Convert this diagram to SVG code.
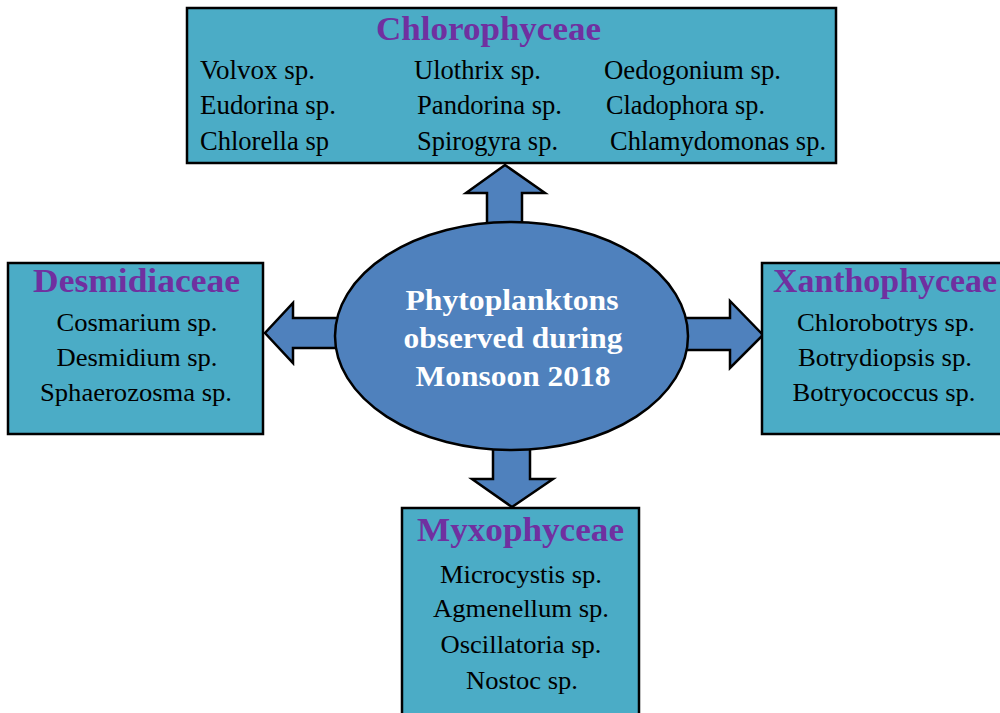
<svg xmlns="http://www.w3.org/2000/svg" width="1000" height="713" viewBox="0 0 1000 713">
<style>
.box{fill:#4BACC6;stroke:#000;stroke-width:2.5}
.arr{fill:#4F81BD;stroke:#000;stroke-width:2.5;stroke-linejoin:miter}
.ell{fill:#4F81BD;stroke:#000;stroke-width:2.5}
.ttl{font-family:"Liberation Serif","Times New Roman",serif;font-weight:bold;font-size:33px;fill:#7030A0}
.itm{font-family:"Liberation Serif","Times New Roman",serif;font-size:26px;fill:#000}
.top{font-size:27px}
.ctr{font-family:"Liberation Serif","Times New Roman",serif;font-weight:bold;font-size:30px;fill:#fff;text-anchor:middle}
.mid{text-anchor:middle}
</style>
<rect width="1000" height="713" fill="#fff"/>
<g id="connectors">
<polygon class="arr" points="487,235 487,193 466,193 505,165 545,193 522,193 522,235"/>
<polygon class="arr" points="340,318 293,318 293,303 265,333 293,363 293,348 340,348"/>
<polygon class="arr" points="684,318 730,318 730,301 763,335 730,368 730,350 684,350"/>
<polygon class="arr" points="493,440 493,479 472,479 512,507 553,479 530,479 530,440"/>
</g>
<g id="center">
<ellipse class="ell" cx="511.5" cy="336" rx="176.5" ry="114"/>
<text class="ctr" x="512" y="310" textLength="213" lengthAdjust="spacingAndGlyphs">Phytoplanktons</text>
<text class="ctr" x="513" y="348" textLength="219" lengthAdjust="spacingAndGlyphs">observed during</text>
<text class="ctr" x="513" y="386" textLength="195" lengthAdjust="spacingAndGlyphs">Monsoon 2018</text>
</g>
<g id="chlorophyceae">
<rect class="box" x="187" y="8" width="649" height="155"/>
<text class="ttl" x="376" y="40" textLength="225" lengthAdjust="spacingAndGlyphs">Chlorophyceae</text>
<text class="itm top" x="200" y="79" textLength="115" lengthAdjust="spacingAndGlyphs">Volvox sp.</text>
<text class="itm top" x="414" y="79" textLength="127" lengthAdjust="spacingAndGlyphs">Ulothrix sp.</text>
<text class="itm top" x="604" y="79" textLength="177" lengthAdjust="spacingAndGlyphs">Oedogonium sp.</text>
<text class="itm top" x="200" y="114" textLength="136" lengthAdjust="spacingAndGlyphs">Eudorina sp.</text>
<text class="itm top" x="417" y="114" textLength="145" lengthAdjust="spacingAndGlyphs">Pandorina sp.</text>
<text class="itm top" x="606" y="114" textLength="159" lengthAdjust="spacingAndGlyphs">Cladophora sp.</text>
<text class="itm top" x="200" y="150" textLength="129" lengthAdjust="spacingAndGlyphs">Chlorella sp</text>
<text class="itm top" x="417" y="150" textLength="141" lengthAdjust="spacingAndGlyphs">Spirogyra sp.</text>
<text class="itm top" x="610" y="150" textLength="216" lengthAdjust="spacingAndGlyphs">Chlamydomonas sp.</text>
</g>
<g id="desmidiaceae">
<rect class="box" x="8" y="263" width="255" height="171"/>
<text class="ttl" x="33" y="292" textLength="207" lengthAdjust="spacingAndGlyphs">Desmidiaceae</text>
<text class="itm mid" x="137" y="331" textLength="161" lengthAdjust="spacingAndGlyphs">Cosmarium sp.</text>
<text class="itm mid" x="137" y="366" textLength="161" lengthAdjust="spacingAndGlyphs">Desmidium sp.</text>
<text class="itm mid" x="136" y="401" textLength="192" lengthAdjust="spacingAndGlyphs">Sphaerozosma sp.</text>
</g>
<g id="xanthophyceae">
<rect class="box" x="762" y="263" width="245" height="171"/>
<text class="ttl" x="773" y="292" textLength="224" lengthAdjust="spacingAndGlyphs">Xanthophyceae</text>
<text class="itm mid" x="886" y="331" textLength="178" lengthAdjust="spacingAndGlyphs">Chlorobotrys sp.</text>
<text class="itm mid" x="885" y="366" textLength="174" lengthAdjust="spacingAndGlyphs">Botrydiopsis sp.</text>
<text class="itm mid" x="884" y="401" textLength="183" lengthAdjust="spacingAndGlyphs">Botryococcus sp.</text>
</g>
<g id="myxophyceae">
<rect class="box" x="402" y="508" width="237" height="215"/>
<text class="ttl" x="417" y="541" textLength="207" lengthAdjust="spacingAndGlyphs">Myxophyceae</text>
<text class="itm mid" x="521" y="583" textLength="162" lengthAdjust="spacingAndGlyphs">Microcystis sp.</text>
<text class="itm mid" x="521" y="617" textLength="176" lengthAdjust="spacingAndGlyphs">Agmenellum sp.</text>
<text class="itm mid" x="521" y="653" textLength="161" lengthAdjust="spacingAndGlyphs">Oscillatoria sp.</text>
<text class="itm mid" x="522" y="689" textLength="112" lengthAdjust="spacingAndGlyphs">Nostoc sp.</text>
</g>
</svg>
